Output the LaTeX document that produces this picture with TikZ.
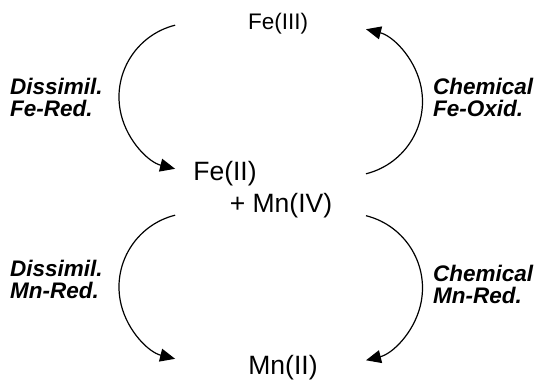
\documentclass[tikz,border=0pt]{standalone}
\usepackage{fontspec}
\setmainfont{Liberation Sans}
\usetikzlibrary{arrows.meta}
\tikzset{
  species/.style={inner sep=0pt, anchor=base},
  process/.style={inner sep=0pt, anchor=north west, align=left,
    font=\fontsize{22.5}{22}\selectfont\bfseries\itshape},
  react/.style={line width=1.2pt, -{Triangle[length=15pt, width=13pt]}},
}
\begin{document}
\begin{tikzpicture}[x=1pt, y=1pt]
  \useasboundingbox (0,0) rectangle (537,380);

  % oxidation states
  \node[species, font=\fontsize{22.5}{27}\selectfont] (fe3) at (278,350) {Fe(III)};
  \node[species, font=\fontsize{26.5}{31}\selectfont] (fe2) at (225,199) {Fe(II)};
  \node[species, font=\fontsize{26.5}{31}\selectfont] (mn4) at (281,167) {+ Mn(IV)};
  \node[species, font=\fontsize{26.5}{31}\selectfont] (mn2) at (283,6) {Mn(II)};

  % process labels
  \node[process] (dfe) at (10,302) {Dissimil.\\Fe-Red.};
  \node[process] (cfe) at (433,302) {Chemical\\Fe-Oxid.};
  \node[process] (dmn) at (10,120) {Dissimil.\\Mn-Red.};
  \node[process] (cmn) at (433,115) {Chemical\\Mn-Red.};

  % start points of the reaction arcs
  \coordinate (feredA) at (175.1,354.8);
  \coordinate (feoxA)  at (366,206.2);
  \coordinate (mnredA) at (175.1,164.8);
  \coordinate (mnoxA)  at (366,164.3);

  % iron cycle
  \draw[react] (feredA) arc[start angle=104, end angle=256, radius=74pt];
  \draw[react] (feoxA)  arc[start angle=-76, end angle=76, radius=74.5pt];
  % manganese reduction
  \draw[react] (mnredA) arc[start angle=104, end angle=256, radius=74pt];
  \draw[react] (mnoxA)  arc[start angle=76, end angle=-76, radius=74.5pt];
\end{tikzpicture}
\end{document}
